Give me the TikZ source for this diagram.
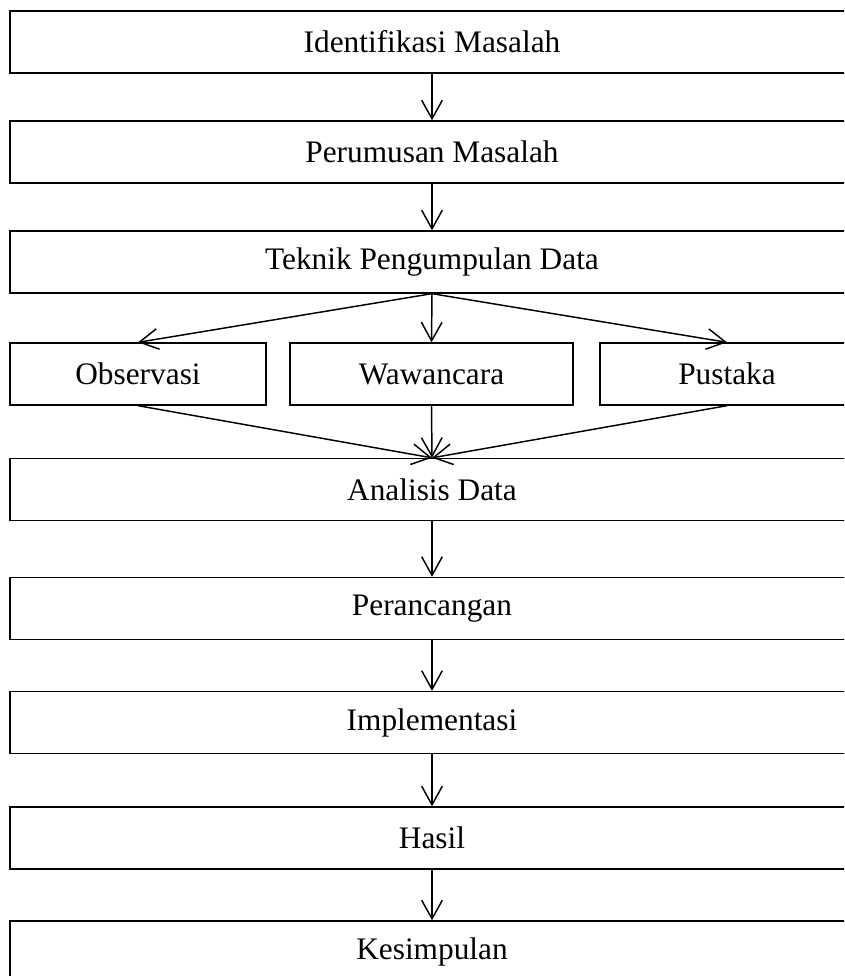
\documentclass[tikz,border=0pt]{standalone}
\usepackage{fontspec}
\setmainfont{Liberation Serif}
\usetikzlibrary{arrows.meta,positioning}

\begin{document}
\begin{tikzpicture}[x=0.75pt,y=-0.75pt,
  box/.style={draw, line width=1pt, rectangle, inner sep=0pt,
    minimum height=46.5pt, font=\fontsize{23.5}{28}\selectfont},
  widebox/.style={box, minimum width=633pt},
  flow/.style={-{Straight Barb[length=14pt,width=15.5pt]}, line width=1.1pt}]
\useasboundingbox (0,0) rectangle (844,976);
\clip (0,0) rectangle (844,976);

% main column
\foreach \name/\y/\txt in {idm/42/Identifikasi Masalah, prm/152/Perumusan Masalah,
  tpd/262/Teknik Pengumpulan Data, ana/489.5/Analisis Data, prc/608.5/Perancangan,
  imp/722.5/Implementasi, has/838/Hasil, kes/952/Kesimpulan}{
  \node[widebox] (\name) at (432,\y) {\txt};
}

% data collection row
\node[box, minimum width=192pt] (obs) at (138,374) {Observasi};
\node[box, minimum width=212.25pt] (waw) at (431.5,374) {Wawancara};
\node[box, minimum width=190.5pt] (pus) at (727,374) {Pustaka};

\draw[flow] (idm) -- (prm);
\draw[flow] (prm) -- (tpd);
\foreach \m in {obs, waw, pus}{
  \draw[flow] (tpd.south) -- (\m.north);
  \draw[flow] (\m.south) -- (ana.north);
}
\draw[flow] (ana) -- (prc);
\draw[flow] (prc) -- (imp);
\draw[flow] (imp) -- (has);
\draw[flow] (has) -- (kes);
\end{tikzpicture}
\end{document}
